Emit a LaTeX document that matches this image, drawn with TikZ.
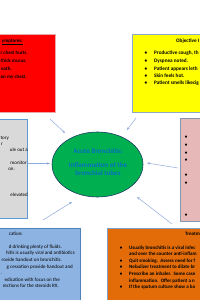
\documentclass[tikz,border=0pt]{standalone}
\usepackage{fontspec}
\setmainfont{Carlito}
\usetikzlibrary{arrows.meta,shapes.geometric}
\definecolor{redfill}{HTML}{FF0000}
\definecolor{redline}{HTML}{E8A8A8}
\definecolor{yelfill}{HTML}{FFFF00}
\definecolor{yelline}{HTML}{8EA9C8}
\definecolor{grayfill}{HTML}{D9D9D9}
\definecolor{grayline}{HTML}{5B9BD5}
\definecolor{pinkfill}{HTML}{E6B9B8}
\definecolor{pinkline}{HTML}{8497B0}
\definecolor{greenfill}{HTML}{00B050}
\definecolor{greenline}{HTML}{203864}
\definecolor{bluefill}{HTML}{8DB3E2}
\definecolor{blueline}{HTML}{4F81BD}
\definecolor{orfill}{HTML}{E36C09}
\definecolor{orline}{HTML}{7F9FC8}
\definecolor{arrcol}{HTML}{8FAADC}
\definecolor{elltext}{HTML}{0070C0}
\tikzset{
  box/.style={rectangle, inner sep=0pt, line width=0.7pt},
  tx/.style={inner sep=0pt, text=black, text height=3.4pt, text depth=1pt, font=\fontsize{5}{6}\selectfont},
  txb/.style={tx, font=\fontsize{5}{6}\selectfont\bfseries},
  txy/.style={tx, font=\fontsize{5.2}{6}\selectfont\bfseries},
  et/.style={inner sep=0pt, text=elltext, font=\fontsize{7}{8}\selectfont\bfseries},
  arr/.style={draw=arrcol, line width=0.5pt, -{Stealth[length=3pt,width=2.4pt]}},
}
\begin{document}
\begin{tikzpicture}[x=1pt,y=-1pt]
\useasboundingbox (0,0) rectangle (200,300);
\clip (0,0) rectangle (200,300);
\fill[white] (0,0) rectangle (200,300);
% boxes
\node[box, draw=redline, fill=redfill, minimum width=125pt, minimum height=78pt] (red) at (-7.5,73) {};
\node[box, draw=yelline, fill=yelfill, minimum width=120pt, minimum height=78pt] (yel) at (192,73) {};
\node[box, draw=grayline, fill=grayfill, minimum width=110pt, minimum height=99pt] (gray) at (-28,168.5) {};
\node[box, draw=pinkline, fill=pinkfill, minimum width=100pt, minimum height=103pt] (pink) at (230,169.5) {};
\node[box, draw=blueline, fill=bluefill, minimum width=140pt, minimum height=90pt] (blue) at (10,273) {};
\node[box, draw=orline, fill=orfill, minimum width=140pt, minimum height=90pt] (orange) at (177,273) {};
% ellipse
\node[ellipse, draw=greenline, line width=0.6pt, fill=greenfill, minimum width=91pt, minimum height=65pt, inner sep=0pt] (ell) at (97.5,164.5) {};
\node[et] (e1) at (98,151) {Acute Bronchitis:};
\node[et] (e2) at (98,165) {Inflammation of the};
\node[et] (e3) at (98,173) {bronchial tubes};
% red texts
\node[txb, anchor=east] (r0) at (23,41) {\underline{ymptoms:}};
\node[txb, anchor=east] (r1) at (28,53) {r chest hurts.};
\node[txb, anchor=east] (r2) at (27,61) {thick mucus.};
\node[txb, anchor=east] (r3) at (12,69) {eath.};
\node[txb, anchor=east] (r4) at (27,77) {on my chest.};
% yellow texts
\node[txy, anchor=west] (y0) at (176,41) {Objective I};
\node[txy] (yb1) at (146,53) {\textbullet};
\node[txy] (yb2) at (146,61) {\textbullet};
\node[txy] (yb3) at (146,69) {\textbullet};
\node[txy] (yb4) at (146,76) {\textbullet};
\node[txy] (yb5) at (146,83) {\textbullet};
\node[txy, anchor=west] (y1) at (154,53) {Productive cough, th};
\node[txy, anchor=west] (y2) at (154,61) {Dyspnea noted.};
\node[txy, anchor=west] (y3) at (154,69) {Patient appears leth};
\node[txy, anchor=west] (y4) at (154,76) {Skin feels hot.};
\node[txy, anchor=west] (y5) at (154,83) {Patient smells likecig};
% gray texts
\node[tx, anchor=east] (g1) at (9,138) {tory};
\node[tx, anchor=east] (g2) at (3,144) {r};
\node[tx, anchor=east] (g3) at (28,150) {ule out a};
\node[tx, anchor=east] (g4) at (27,163) {monitor};
\node[tx, anchor=east] (g5) at (15,169) {on.};
\node[tx, anchor=east] (g6) at (28,195) {elevated};
% pink bullets
\foreach \yy [count=\i] in {137,145,153,160,175,183,215}
  \node[txb] (pb\i) at (186,\yy) {\textbullet};
% blue texts
\node[tx, anchor=east] (b0) at (23,234) {cation:};
\node[tx, anchor=east] (b1) at (62,247) {d drinking plenty of fluids.};
\node[tx, anchor=east] (b2) at (75,253) {hitis is usually viral and antibiotics};
\node[tx, anchor=east] (b3) at (62,260) {rovide handout on bronchitis.};
\node[tx, anchor=east] (b4) at (73,267) {g cessation provide handout and};
\node[tx, anchor=east] (b5) at (2,273) {.};
\node[tx, anchor=east] (b6) at (60,280) {edication with focus on the};
\node[tx, anchor=east] (b7) at (59,286) {rections for the steroids RX.};
% orange texts
\node[txb, anchor=west] (o0) at (185,234) {Treatm};
\foreach \yy [count=\i] in {248,261,267,274,287}
  \node[txb] (ob\i) at (121,\yy) {\textbullet};
\node[txb, anchor=west] (o1) at (129,248) {Usually bronchitis is a viral infec};
\node[txb, anchor=west] (o2) at (129,254) {and over the counter anti-inflam};
\node[txb, anchor=west] (o3) at (129,261) {Quit smoking.\ \ Assess need for f};
\node[txb, anchor=west] (o4) at (129,267) {Nebulizer treatment to dilate br};
\node[txb, anchor=west] (o5) at (129,274) {Prescribe an inhaler.\ \ Some case};
\node[txb, anchor=west] (o6) at (129,281) {inflammation.\ \ Offer patient a n};
\node[txb, anchor=west] (o7) at (129,287) {If the sputum culture show a ba};
% arrows
\coordinate (rt) at (50,119);  \coordinate (rh) at (65,133);
\coordinate (yt) at (136,118); \coordinate (yh) at (127,130);
\coordinate (gt) at (28,163.5);  \coordinate (gh) at (50,163.5);
\coordinate (pt) at (178,168); \coordinate (ph) at (147,163);
\coordinate (bt) at (43,220);  \coordinate (bh) at (72,202);
\coordinate (ot) at (172,224); \coordinate (oh) at (137,197);
\draw[arr] (rt) -- (rh);
\draw[arr] (yt) -- (yh);
\draw[arr] (gt) -- (gh);
\draw[arr] (pt) -- (ph);
\draw[arr] (bt) -- (bh);
\draw[arr] (ot) -- (oh);
\end{tikzpicture}
\end{document}
